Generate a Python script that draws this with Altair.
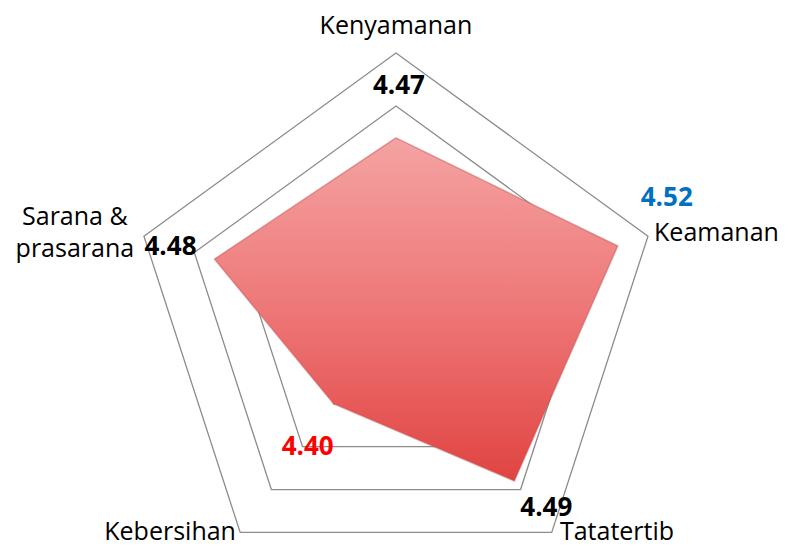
import altair as alt
import pandas as pd

# ---- data ----
categories = ["Kenyamanan", "Keamanan", "Tatatertib", "Kebersihan", "Sarana & prasarana"]
values = [4.47, 4.52, 4.49, 4.40, 4.48]
value_labels = ["4.47", "4.52", "4.49", "4.40", "4.48"]
grid_levels = [4.35, 4.40, 4.45, 4.50, 4.55]
axis_min = 4.30
axis_max = 4.55

n = len(categories)
df = pd.DataFrame({
    "idx": list(range(n)),
    "category": categories,
    "value": values,
    "label": value_labels,
})
grid_df = pd.DataFrame(
    [{"value": lv, "idx": i} for lv in grid_levels for i in range(n)]
)
grid_df["ring"] = grid_df["value"].astype(str)

xscale = alt.Scale(domain=[-1.464, 1.453], nice=False, zero=False)
yscale = alt.Scale(domain=[-0.864, 1.170], nice=False, zero=False)


def polar(chart, radius_expr):
    return chart.transform_calculate(
        ang=f"datum.idx * 2 * PI / {n}",
        r=radius_expr,
    ).transform_calculate(
        px="datum.r * sin(datum.ang)",
        py="datum.r * cos(datum.ang)",
    )


X = alt.X("px:Q", scale=xscale, axis=None)
Y = alt.Y("py:Q", scale=yscale, axis=None)
value_r = f"(datum.value - {axis_min}) / ({axis_max} - {axis_min})"

grid = polar(alt.Chart(grid_df), value_r).mark_line(
    interpolate="linear-closed", color="#8c8c8c", strokeWidth=1.3
).encode(x=X, y=Y, detail="ring:N", order="idx:Q")

gradient = alt.Gradient(
    gradient="linear",
    stops=[
        alt.GradientStop(color="#F5A3A3", offset=0),
        alt.GradientStop(color="#EE7777", offset=0.5),
        alt.GradientStop(color="#E04442", offset=1),
    ],
    x1=0, x2=0, y1=0, y2=1,
)
poly = polar(alt.Chart(df), value_r).mark_line(
    interpolate="linear-closed", fill=gradient, stroke="#C65656",
    strokeWidth=1.5, strokeOpacity=0.5
).encode(x=X, y=Y, order="idx:Q")

FONT = "Open Sans"

# category labels
cat_specs = [
    ("Kenyamanan", dict(align="center", baseline="alphabetic", dx=0, dy=-8)),
    ("Keamanan", dict(align="left", baseline="middle", dx=-4, dy=0)),
    ("Tatatertib", dict(align="left", baseline="alphabetic", dx=2, dy=-1)),
    ("Kebersihan", dict(align="right", baseline="alphabetic", dx=2, dy=-1)),
    ("Sarana & prasarana", dict(align="center", baseline="middle", dx=-59, dy=-16)),
]
cat_layers = []
for cat, opts in cat_specs:
    disp = "Sarana &\\nprasarana" if cat.startswith("Sarana") else cat
    layer = polar(alt.Chart(df), "1.04").transform_filter(
        alt.datum.category == cat
    ).transform_calculate(txt=f"'{disp}'").mark_text(
        font=FONT, fontSize=25, color="#000000",
        lineBreak="\n", lineHeight=32, **opts
    ).encode(x=X, y=Y, text="txt:N")
    cat_layers.append(layer)

# value labels
val_specs = [
    ("Kenyamanan", "#000000", 3, -52),
    ("Keamanan", "#0070C0", 49, -48),
    ("Tatatertib", "#000000", 32, 27),
    ("Kebersihan", "#FF0000", -26, 43),
    ("Sarana & prasarana", "#000000", -44, -12),
]
val_layers = []
for cat, col, dx, dy in val_specs:
    layer = polar(alt.Chart(df), value_r).transform_filter(
        alt.datum.category == cat
    ).mark_text(
        font=FONT, fontSize=26, fontWeight="bold", color=col,
        align="center", baseline="middle", dx=dx, dy=dy
    ).encode(x=X, y=Y, text="label:N")
    val_layers.append(layer)

chart = alt.layer(grid, poly, *cat_layers, *val_layers).properties(
    width=773, height=539,
    autosize=alt.AutoSizeParams(type="none"),
    padding=0,
    background="white",
).configure_view(strokeWidth=0)

chart.save("out.html", embed_options={"renderer": "svg", "actions": False})
